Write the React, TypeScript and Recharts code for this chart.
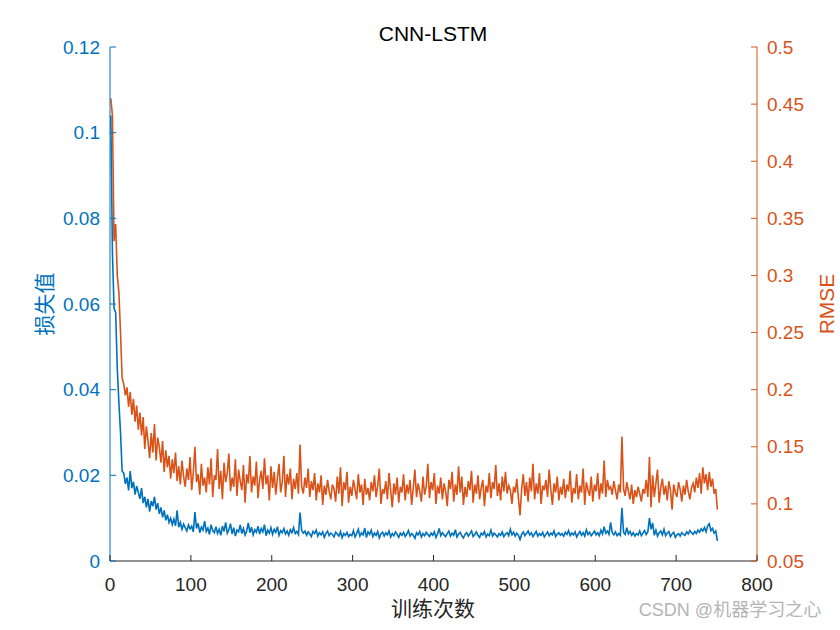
import React from 'react';
import { LineChart, Line, XAxis, YAxis } from 'recharts';

// MATLAB default colours
const BLUE = '#0072BD';
const ORANGE = '#D95319';
const AXIS = '#262626';
const FONT = '"Liberation Sans", Arial, "Noto Sans CJK SC", sans-serif';

// one sample every STEP iterations, starting at iteration 1
const STEP = 2;

const LOSS = [
  0.104, 0.072, 0.059, 0.058, 0.045, 0.037, 0.030, 0.021, 0.0205, 0.018,
  0.0195, 0.0165, 0.021, 0.017, 0.0185, 0.0155, 0.0175, 0.016, 0.0145, 0.017,
  0.0135, 0.015, 0.0125, 0.0145, 0.0115, 0.014, 0.0128, 0.0150, 0.012, 0.0135,
  0.0110, 0.0125, 0.0102, 0.0118, 0.0095, 0.0108, 0.0090, 0.0100, 0.0085, 0.0098,
  0.0082, 0.0118, 0.0079, 0.0090, 0.0074, 0.0086, 0.0078, 0.0070, 0.0084, 0.0075,
  0.0081, 0.0068, 0.0114, 0.0076, 0.0088, 0.0066, 0.0079, 0.0072, 0.0093, 0.0069,
  0.0077, 0.0062, 0.0085, 0.0071, 0.0066, 0.0080, 0.0064, 0.0074, 0.0060, 0.0082,
  0.0069, 0.0090, 0.0065, 0.0073, 0.0087, 0.0063, 0.0078, 0.0058, 0.0072, 0.0068,
  0.0084, 0.0064, 0.0076, 0.0061, 0.0070, 0.0089, 0.0066, 0.0079, 0.0061, 0.0073,
  0.0067, 0.0081, 0.0063, 0.0076, 0.0068, 0.0085, 0.0059, 0.0072, 0.0065, 0.0078,
  0.0062, 0.0074, 0.0067, 0.0080, 0.0060, 0.0071, 0.0066, 0.0076, 0.0063, 0.0070,
  0.0060, 0.0073, 0.0066, 0.0078, 0.0064, 0.0069, 0.0062, 0.0113, 0.0071, 0.0065,
  0.0070, 0.0060, 0.0068, 0.0063, 0.0057, 0.0069, 0.0064, 0.0072, 0.0058, 0.0066,
  0.0061, 0.0068, 0.0055, 0.0064, 0.0070, 0.0059, 0.0065, 0.0062, 0.0056, 0.0067,
  0.0063, 0.0058, 0.0069, 0.0054, 0.0064, 0.0060, 0.0067, 0.0057, 0.0062, 0.0059,
  0.0071, 0.0056, 0.0064, 0.0074, 0.0058, 0.0066, 0.0061, 0.0077, 0.0055, 0.0068,
  0.0062, 0.0072, 0.0057, 0.0065, 0.0060, 0.0069, 0.0054, 0.0063, 0.0067, 0.0058,
  0.0066, 0.0061, 0.0070, 0.0056, 0.0064, 0.0059, 0.0068, 0.0062, 0.0055, 0.0065,
  0.0060, 0.0067, 0.0057, 0.0063, 0.0071, 0.0058, 0.0064, 0.0060, 0.0053, 0.0066,
  0.0061, 0.0069, 0.0056, 0.0064, 0.0059, 0.0067, 0.0062, 0.0057, 0.0065, 0.0060,
  0.0068, 0.0055, 0.0063, 0.0076, 0.0059, 0.0066, 0.0061, 0.0057, 0.0064, 0.0070,
  0.0058, 0.0065, 0.0060, 0.0073, 0.0056, 0.0063, 0.0067, 0.0059, 0.0054, 0.0062,
  0.0066, 0.0058, 0.0064, 0.0070, 0.0057, 0.0062, 0.0068, 0.0060, 0.0055, 0.0065,
  0.0061, 0.0069, 0.0056, 0.0063, 0.0059, 0.0072, 0.0058, 0.0065, 0.0061, 0.0056,
  0.0064, 0.0060, 0.0068, 0.0057, 0.0063, 0.0066, 0.0059, 0.0074, 0.0061, 0.0067,
  0.0058, 0.0065, 0.0060, 0.0050, 0.0062, 0.0068, 0.0059, 0.0064, 0.0070, 0.0061,
  0.0066, 0.0057, 0.0063, 0.0069, 0.0058, 0.0064, 0.0060, 0.0067, 0.0056, 0.0062,
  0.0068, 0.0059, 0.0065, 0.0061, 0.0070, 0.0057, 0.0063, 0.0066, 0.0060, 0.0064,
  0.0058, 0.0067, 0.0062, 0.0071, 0.0059, 0.0065, 0.0061, 0.0068, 0.0056, 0.0063,
  0.0069, 0.0060, 0.0066, 0.0058, 0.0073, 0.0062, 0.0067, 0.0059, 0.0064, 0.0070,
  0.0061, 0.0066, 0.0059, 0.0072, 0.0063, 0.0080, 0.0065, 0.0070, 0.0062, 0.0090,
  0.0066, 0.0061, 0.0068, 0.0059, 0.0064, 0.0060, 0.0124, 0.0067, 0.0062, 0.0078,
  0.0063, 0.0069, 0.0060, 0.0066, 0.0058, 0.0064, 0.0061, 0.0070, 0.0059, 0.0065,
  0.0071, 0.0062, 0.0068, 0.0100, 0.0074, 0.0089, 0.0060, 0.0072, 0.0058, 0.0066,
  0.0070, 0.0061, 0.0074, 0.0059, 0.0065, 0.0069, 0.0057, 0.0063, 0.0067, 0.0055,
  0.0061, 0.0064, 0.0058, 0.0066, 0.0062, 0.0060, 0.0068, 0.0063, 0.0071, 0.0066,
  0.0062, 0.0069, 0.0064, 0.0072, 0.0067, 0.0075, 0.0070, 0.0078, 0.0068, 0.0082,
  0.0087, 0.0071, 0.0076, 0.0065, 0.0070, 0.0047,
];

const RMSE = [
  0.455, 0.440, 0.330, 0.345, 0.300, 0.285, 0.250, 0.210, 0.205, 0.195,
  0.202, 0.185, 0.198, 0.178, 0.192, 0.172, 0.186, 0.165, 0.180, 0.160,
  0.176, 0.148, 0.168, 0.155, 0.140, 0.162, 0.145, 0.170, 0.138, 0.158,
  0.150, 0.136, 0.155, 0.128, 0.147, 0.132, 0.142, 0.122, 0.139, 0.127,
  0.145, 0.120, 0.133, 0.117, 0.138, 0.124, 0.115, 0.131, 0.121, 0.141,
  0.112, 0.127, 0.150, 0.119, 0.126, 0.108, 0.135, 0.116, 0.123, 0.110,
  0.132, 0.117, 0.140, 0.106, 0.125, 0.121, 0.148, 0.113, 0.129, 0.104,
  0.136, 0.119, 0.127, 0.144, 0.111, 0.123, 0.115, 0.139, 0.107, 0.130,
  0.120, 0.112, 0.134, 0.101, 0.126, 0.118, 0.142, 0.110, 0.124, 0.116,
  0.137, 0.105, 0.121, 0.129, 0.113, 0.140, 0.117, 0.125, 0.103, 0.133,
  0.114, 0.128, 0.108, 0.123, 0.135, 0.110, 0.119, 0.142, 0.106, 0.126,
  0.117, 0.131, 0.104, 0.122, 0.113, 0.127, 0.109, 0.152, 0.115, 0.109,
  0.123, 0.114, 0.131, 0.106, 0.120, 0.112, 0.127, 0.103, 0.118, 0.110,
  0.125, 0.099, 0.116, 0.108, 0.121, 0.111, 0.104, 0.117, 0.113, 0.102,
  0.124, 0.109, 0.132, 0.098, 0.119, 0.112, 0.128, 0.101, 0.115, 0.107,
  0.121, 0.113, 0.104, 0.126, 0.110, 0.117, 0.099, 0.122, 0.108, 0.114,
  0.103, 0.119, 0.111, 0.125, 0.106, 0.116, 0.131, 0.100, 0.113, 0.109,
  0.120, 0.104, 0.127, 0.112, 0.097, 0.118, 0.108, 0.123, 0.101, 0.115,
  0.110, 0.126, 0.103, 0.117, 0.109, 0.121, 0.099, 0.114, 0.130, 0.106,
  0.118, 0.111, 0.102, 0.124, 0.108, 0.115, 0.135, 0.105, 0.119, 0.112,
  0.127, 0.100, 0.116, 0.109, 0.123, 0.104, 0.118, 0.111, 0.098, 0.121,
  0.113, 0.128, 0.102, 0.117, 0.108, 0.133, 0.110, 0.124, 0.099, 0.115,
  0.106, 0.120, 0.112, 0.129, 0.101, 0.117, 0.109, 0.125, 0.104, 0.114,
  0.121, 0.098, 0.116, 0.110, 0.127, 0.105, 0.119, 0.113, 0.134, 0.107,
  0.118, 0.103, 0.124, 0.111, 0.128, 0.109, 0.116, 0.112, 0.100, 0.115,
  0.110, 0.122, 0.105, 0.090, 0.113, 0.126, 0.107, 0.119, 0.102, 0.123,
  0.111, 0.135, 0.104, 0.118, 0.109, 0.127, 0.100, 0.116, 0.112, 0.121,
  0.106, 0.130, 0.113, 0.099, 0.118, 0.110, 0.124, 0.103, 0.115, 0.108,
  0.122, 0.105, 0.117, 0.111, 0.129, 0.101, 0.114, 0.109, 0.126, 0.104,
  0.116, 0.110, 0.131, 0.099, 0.119, 0.112, 0.107, 0.124, 0.102, 0.117,
  0.111, 0.127, 0.104, 0.118, 0.109, 0.138, 0.106, 0.121, 0.113, 0.115,
  0.108, 0.120, 0.112, 0.104, 0.117, 0.110, 0.159, 0.113, 0.107, 0.119,
  0.111, 0.104, 0.117, 0.100, 0.112, 0.106, 0.115, 0.109, 0.102, 0.113,
  0.109, 0.121, 0.106, 0.141, 0.097, 0.125, 0.106, 0.118, 0.130, 0.101,
  0.114, 0.122, 0.108, 0.116, 0.103, 0.120, 0.112, 0.095, 0.117, 0.110,
  0.106, 0.119, 0.113, 0.102, 0.116, 0.108, 0.121, 0.111, 0.104, 0.114,
  0.118, 0.110, 0.123, 0.114, 0.127, 0.109, 0.132, 0.118, 0.126, 0.112,
  0.128, 0.115, 0.122, 0.109, 0.113, 0.095,
];

const X_TICKS = [0, 100, 200, 300, 400, 500, 600, 700, 800];
const LOSS_TICKS = [0, 0.02, 0.04, 0.06, 0.08, 0.1, 0.12];
const RMSE_TICKS = [0.05, 0.1, 0.15, 0.2, 0.25, 0.3, 0.35, 0.4, 0.45, 0.5];

const data = LOSS.map((v, i) => ({ iter: 1 + i * STEP, loss: v, rmse: RMSE[i] }));

const TICK_LEN = 6;
const FONT_SIZE = 19;

// ticks drawn inward like MATLAB
const LeftTick = (props: any) => {
  const { x, y, payload } = props;
  return (
    <g>
      <line x1={x} y1={y} x2={x + TICK_LEN} y2={y} stroke={BLUE} />
      <text x={x - 10} y={y} textAnchor="end" dominantBaseline="central" fill={BLUE}
        fontSize={FONT_SIZE} fontFamily={FONT}>{String(payload.value)}</text>
    </g>
  );
};

const RightTick = (props: any) => {
  const { x, y, payload } = props;
  return (
    <g>
      <line x1={x} y1={y} x2={x - TICK_LEN} y2={y} stroke={ORANGE} />
      <text x={x + 10} y={y} textAnchor="start" dominantBaseline="central" fill={ORANGE}
        fontSize={FONT_SIZE} fontFamily={FONT}>{String(payload.value)}</text>
    </g>
  );
};

const BottomTick = (props: any) => {
  const { x, y, payload } = props;
  return (
    <g>
      <line x1={x} y1={y} x2={x} y2={y - TICK_LEN} stroke={AXIS} />
      <text x={x} y={y + 23} textAnchor="middle" dominantBaseline="central" fill={AXIS}
        fontSize={FONT_SIZE} fontFamily={FONT}>{String(payload.value)}</text>
    </g>
  );
};

const TopTick = (props: any) => {
  const { x, y } = props;
  return <line x1={x} y1={y} x2={x} y2={y + TICK_LEN} stroke={AXIS} />;
};

const label: React.CSSProperties = {
  position: 'absolute',
  fontFamily: FONT,
  whiteSpace: 'nowrap',
  lineHeight: 1,
  transform: 'translate(-50%, -50%)',
};

export default function App() {
  return (
    <div style={{ position: 'absolute', left: 0, top: 0, width: 840, height: 630, background: '#fff' }}>
      <LineChart width={840} height={630} data={data} margin={{ top: 47, right: 0, bottom: 0, left: 0 }}>
        <XAxis dataKey="iter" type="number" domain={[0, 800]} ticks={X_TICKS} height={69}
          allowDataOverflow axisLine={{ stroke: AXIS }} tickLine={false} tickSize={0} tickMargin={0}
          tick={<BottomTick />} />
        <XAxis xAxisId="top" orientation="top" dataKey="iter" type="number" domain={[0, 800]}
          ticks={X_TICKS} height={0} allowDataOverflow axisLine={{ stroke: AXIS }} tickLine={false}
          tickSize={0} tickMargin={0} tick={<TopTick />} />
        <YAxis yAxisId="left" type="number" domain={[0, 0.12]} ticks={LOSS_TICKS} width={110}
          allowDataOverflow axisLine={{ stroke: BLUE }} tickLine={false} tickSize={0} tickMargin={0}
          tick={<LeftTick />} />
        <YAxis yAxisId="right" orientation="right" type="number" domain={[0.05, 0.5]} ticks={RMSE_TICKS}
          width={83} allowDataOverflow axisLine={{ stroke: ORANGE }} tickLine={false} tickSize={0}
          tickMargin={0} tick={<RightTick />} />
        <Line yAxisId="left" dataKey="loss" stroke={BLUE} strokeWidth={1.6} dot={false}
          isAnimationActive={false} />
        <Line yAxisId="right" dataKey="rmse" stroke={ORANGE} strokeWidth={1.6} dot={false}
          isAnimationActive={false} />
      </LineChart>
      <div style={{ ...label, left: 433, top: 33, fontSize: 21, color: '#000' }}>CNN-LSTM</div>
      <div style={{ ...label, left: 433, top: 608, fontSize: 21, color: AXIS }}>训练次数</div>
      <div style={{ ...label, left: 44, top: 304, fontSize: 21, color: BLUE, transform: 'translate(-50%, -50%) rotate(-90deg)' }}>损失值</div>
      <div style={{ ...label, left: 826, top: 304, fontSize: 21, color: ORANGE, transform: 'translate(-50%, -50%) rotate(-90deg)' }}>RMSE</div>
      <div style={{ ...label, left: 730, top: 610, fontSize: 18, color: '#b4b4b4' }}>CSDN @机器学习之心</div>
    </div>
  );
}
